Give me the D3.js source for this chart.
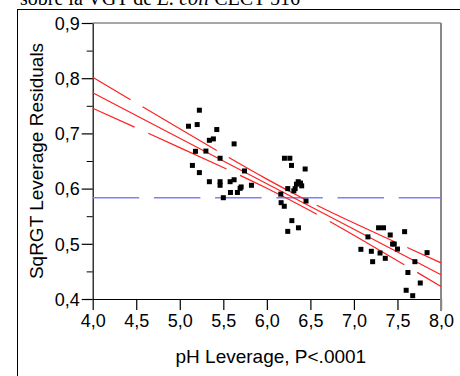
<!DOCTYPE html>
<html><head><meta charset="utf-8">
<script src="https://cdn.jsdelivr.net/npm/d3@7"></script>
<style>body{margin:0;background:#fff}svg{display:block}</style></head>
<body>
<script>
// Data
const phX = [5.225,5.10,5.20,5.425,5.34,5.386,5.18,5.30,5.624,5.463,5.145,5.225,5.743,5.34,5.463,5.463,5.578,5.624,5.705,5.693,5.823,5.582,5.662,5.50,
  6.202,6.264,6.283,6.44,6.36,6.386,6.40,6.34,6.325,6.24,6.31,6.16,6.45,6.164,6.20,6.287,6.363,6.24,
  7.283,7.34,7.582,7.417,7.161,7.444,7.463,7.50,7.08,7.20,7.30,7.84,7.36,7.215,7.70,7.62,7.762,7.60,7.675];
const resid = [0.742,0.713,0.716,0.707,0.6875,0.690,0.6675,0.668,0.681,0.655,0.642,0.629,0.632,0.6125,0.6125,0.606,0.6125,0.616,0.603,0.6005,0.606,0.593,0.593,0.5835,
  0.655,0.655,0.642,0.6355,0.6125,0.610,0.605,0.608,0.600,0.600,0.596,0.590,0.5775,0.5745,0.568,0.542,0.529,0.5225,
  0.529,0.529,0.522,0.516,0.5125,0.4996,0.4996,0.4905,0.490,0.4864,0.4833,0.484,0.4737,0.4676,0.4676,0.448,0.429,0.4158,0.406];
const fitX = [4.0, 8.0];
const fitY = [0.7737, 0.4441];
const ciX = [4.0,4.5,5.0,5.5,6.0,6.5,7.0,7.5,8.0];
const ciUpper = [0.8017,0.7549,0.7083,0.6621,0.6172,0.5756,0.5377,0.5013,0.4654];
const ciLower = [0.7457,0.7101,0.6743,0.6381,0.6006,0.5598,0.5153,0.4693,0.4228];
const meanY = [0.5835];
const xTicks = [4.0,4.5,5.0,5.5,6.0,6.5,7.0,7.5,8.0];
const yTicks = [0.4,0.5,0.6,0.7,0.8,0.9];
const yMinor = [0.45,0.55,0.65,0.75,0.85];
const titleParts = [["sobre la VGT de ", "normal"], ["E. coli", "italic"], [" CECT 516", "normal"]];
const xTitle = "pH Leverage, P<.0001";
const yTitle = "SqRGT Leverage Residuals";

const W = 460, H = 376;
const L = 92.7, R = 441, T = 23, B = 299;
const svg = d3.select("body").append("svg").attr("width", W).attr("height", H);

// outer frame (partial)
svg.append("line").attr("x1",17.5).attr("x2",17.5).attr("y1",9.5).attr("y2",H).attr("stroke","#000").attr("stroke-width",1);
svg.append("line").attr("x1",17).attr("x2",W).attr("y1",9.5).attr("y2",9.5).attr("stroke","#000").attr("stroke-width",1);

// title (clipped at top)
const tt = svg.append("text").attr("x",20).attr("y",5).attr("font-family","'Liberation Serif','Times New Roman',serif").attr("font-size",20).attr("fill","#000");
titleParts.forEach(p => tt.append("tspan").attr("font-style",p[1]).text(p[0]));

const x = d3.scaleLinear().domain([4,8]).range([L,R]);
const y = d3.scaleLinear().domain([0.4,0.9]).range([B,T]);
const fmt = v => d3.format(".1f")(v).replace(".", ",");

// border top/right gray
svg.append("line").attr("x1",L).attr("x2",R).attr("y1",T).attr("y2",T).attr("stroke","#888").attr("stroke-width",1.5);

// axes
const xAxis = d3.axisBottom(x).tickValues(xTicks).tickFormat(fmt).tickSize(11).tickSizeOuter(0);
const gx = svg.append("g").attr("transform",`translate(0,${B})`).call(xAxis);
const yAxis = d3.axisLeft(y).tickValues(yTicks).tickFormat(fmt).tickSize(11).tickSizeOuter(0);
const gy = svg.append("g").attr("transform",`translate(${L},0)`).call(yAxis);
const yAxisMinor = d3.axisLeft(y).tickValues(yMinor).tickFormat("").tickSize(6).tickSizeOuter(0);
svg.append("g").attr("transform",`translate(${L},0)`).call(yAxisMinor).select(".domain").remove();
[gx, gy].forEach(g => {
  g.selectAll("text").attr("font-family","'Liberation Sans',Arial,sans-serif").attr("font-size",18).attr("fill","#000");
  g.selectAll("line,path").attr("stroke","#000").attr("stroke-width",1.2);
});
gx.selectAll("text").attr("dy","1.05em").attr("y",9);
gy.selectAll("text").attr("x",-13).attr("dy","0.35em");

// right border
svg.append("line").attr("x1",R).attr("x2",R).attr("y1",T).attr("y2",B+12).attr("stroke","#888").attr("stroke-width",2);

// mean line
svg.append("line").attr("x1",x(4)).attr("x2",x(8)).attr("y1",y(meanY[0])).attr("y2",y(meanY[0]))
  .attr("stroke","#8080ff").attr("stroke-width",1.5).attr("stroke-dasharray","46.5 14.7");

// fit line + CI
const line = d3.line().x(d=>x(d[0])).y(d=>y(d[1]));
svg.append("path").attr("d", line(fitX.map((v,i)=>[v,fitY[i]]))).attr("fill","none").attr("stroke","#ff2020").attr("stroke-width",1.2);
const cl = d3.line().x(d=>x(d[0])).y(d=>y(d[1])).curve(d3.curveNatural);
svg.append("path").attr("d", cl(ciX.map((v,i)=>[v,ciUpper[i]]))).attr("fill","none").attr("stroke","#ff2020").attr("stroke-width",1.2)
  .attr("stroke-dasharray","86 14").attr("stroke-dashoffset",42);
svg.append("path").attr("d", cl(ciX.map((v,i)=>[v,ciLower[i]]))).attr("fill","none").attr("stroke","#ff2020").attr("stroke-width",1.2)
  .attr("stroke-dasharray","86 15").attr("stroke-dashoffset",40);

// points
const s = 5;
svg.append("g").selectAll("rect").data(phX.map((v,i)=>[v,resid[i]])).join("rect")
  .attr("x", d=>x(d[0])-s/2).attr("y", d=>y(d[1])-s/2).attr("width",s).attr("height",s).attr("fill","#000");

// axis titles
svg.append("text").attr("x",(L+R)/2+4).attr("y",363).attr("text-anchor","middle")
  .attr("font-family","'Liberation Sans',Arial,sans-serif").attr("font-size",19).attr("fill","#000").text(xTitle);
svg.append("text").attr("transform",`translate(43,${(T+B)/2}) rotate(-90)`).attr("text-anchor","middle")
  .attr("font-family","'Liberation Sans',Arial,sans-serif").attr("font-size",19).attr("fill","#000").text(yTitle);
</script>
</body></html>
